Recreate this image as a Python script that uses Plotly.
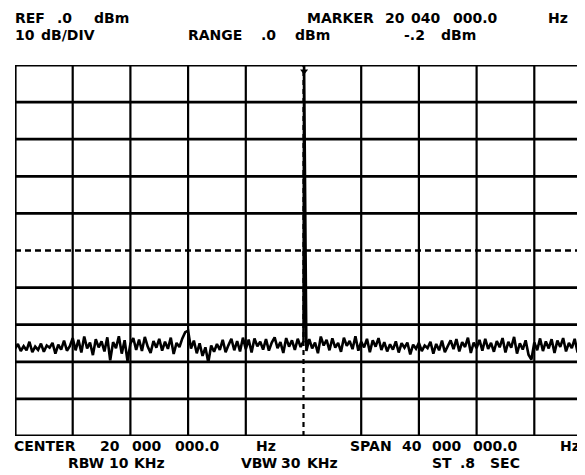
import numpy as np
import plotly.graph_objects as go

# ---------------- data ----------------
center_mhz = 20.0
span_mhz = 40.0
ref_dbm = 0.0
db_per_div = 10.0
n_div = 10

marker_freq_mhz = 20.04
marker_level_dbm = -0.2

# sweep bins (0 .. 40 MHz, 0.2 MHz spacing)
sweep_freq_mhz = np.round(np.arange(0, 40.0001, 0.2), 3).tolist()

noise_dbm = [
    -76.5, -75.2, -77.1, -75.8, -76.9, -74.6, -77.4, -75.9, -76.8, -75.1,
    -77.3, -75.6, -76.2, -74.9, -77.8, -75.4, -76.7, -74.3, -77.0, -75.8,
    -73.6, -76.9, -74.1, -77.5, -73.2, -76.4, -74.8, -78.2, -73.9, -76.1,
    -74.5, -77.2, -73.4, -79.6, -74.7, -76.3, -73.1, -77.8, -74.2, -79.8,
    -75.1, -73.6, -76.8, -74.0, -77.1, -73.3, -75.9, -77.6, -74.4, -76.2,
    -73.8, -77.0, -74.6, -76.5, -73.5, -77.9, -74.9, -76.0, -73.7, -72.0,
    -71.6, -76.4, -74.3, -77.7, -75.0, -78.4, -76.1, -80.2, -75.6, -77.3,
    -75.2, -76.8, -74.1, -77.4, -75.5, -73.8, -76.9, -74.4, -77.2, -73.5,
    -76.6, -74.0, -77.5, -73.7, -75.8, -74.6, -76.7, -73.9, -77.0, -74.8,
    -73.4, -76.3, -74.7, -77.6, -73.6, -75.9, -74.2, -76.8, -73.8, -76.0,
    -74.5, -77.1, -73.9, -76.4, -74.8, -77.7, -73.2, -75.6, -74.1, -76.9,
    -73.7, -76.2, -74.9, -77.3, -73.5, -75.7, -74.4, -76.6, -73.1, -77.0,
    -74.6, -76.1, -73.8, -77.4, -74.2, -75.9, -73.6, -76.8, -74.7, -77.2,
    -75.3, -76.7, -74.5, -77.5, -75.0, -76.2, -74.8, -78.0, -75.4, -76.5,
    -74.9, -77.1, -75.6, -76.3, -74.6, -77.8, -75.2, -76.9, -74.3, -77.4,
    -75.7, -74.2, -76.6, -73.9, -77.2, -74.7, -76.0, -73.5, -77.6, -74.8,
    -76.3, -74.1, -77.0, -73.8, -76.5, -74.9, -77.3, -74.4, -76.1, -73.6,
    -77.5, -74.6, -76.2, -73.3, -77.8, -75.0, -76.7, -74.2, -78.1, -79.4,
    -74.8, -76.9, -73.7, -77.1, -74.5, -76.4, -73.9, -77.6, -74.3, -76.0,
    -73.6, -77.2, -74.9, -76.3, -73.8, -77.5, -74.1, -76.8, -73.4, -76.6,
    -75.0,
]

header_left = ["REF .0 dBm", "10 dB/DIV"]
header_mid = "RANGE .0 dBm"
header_marker = ["MARKER 20 040 000.0 Hz", "-.2 dBm"]
footer_row1 = ["CENTER 20 000 000.0 Hz", "SPAN 40 000 000.0 Hz"]
footer_row2 = ["RBW 10 KHz", "VBW 30 KHz", "ST .8 SEC"]

# ---------------- build trace (insert marker signal) ----------------
trace_f, trace_v = [], []
for f, v in zip(sweep_freq_mhz, noise_dbm):
    trace_f.append(f)
    trace_v.append(v)
    if f < marker_freq_mhz <= f + 0.2:
        trace_f.append(marker_freq_mhz)
        trace_v.append(marker_level_dbm)

# ---------------- layout geometry (page pixels) ----------------
PAGE_W, PAGE_H = 585, 475
OFF = 8                      # default body margin of the html page
W, H = PAGE_W - OFF, PAGE_H - OFF
PL, PT, PB = 15, 65, 436     # plot box on the page
L, T, B = PL - OFF, PT - OFF, H - (PB - OFF)
px_per_div = 57.7
mhz_per_div = span_mhz / n_div
x_max = (PAGE_W - PL) / px_per_div * mhz_per_div
y_min = ref_dbm - n_div * db_per_div

fig = go.Figure()
fig.add_trace(go.Scatter(x=trace_f, y=trace_v, mode="lines",
                         line=dict(color="black", width=2.6),
                         hoverinfo="skip", showlegend=False))

shapes = []
for i in range(n_div + 1):
    yv = ref_dbm - i * db_per_div
    w = 3.2 if i in (0, n_div) else 2.7
    shapes.append(dict(type="line", xref="x", yref="y", x0=0, x1=span_mhz,
                       y0=yv, y1=yv,
                       line=dict(color="black", width=w,
                                 dash="6px,4px" if i == n_div // 2 else "solid")))
for i in range(n_div + 1):
    xv = i * mhz_per_div
    w = 3.2 if i == 0 else 2.2
    shapes.append(dict(type="line", xref="x", yref="y", x0=xv, x1=xv,
                       y0=y_min, y1=ref_dbm,
                       line=dict(color="black", width=w,
                                 dash="5px,4px" if i == n_div // 2 else "solid")))

# marker glyph at top
fig.add_trace(go.Scatter(x=[marker_freq_mhz], y=[marker_level_dbm - 1.5], mode="markers",
                         marker=dict(symbol="triangle-down", size=7, color="black"),
                         hoverinfo="skip", showlegend=False, cliponaxis=False))

FONT = dict(family="DejaVu Sans", size=14, color="black", weight="bold")
plot_w = PAGE_W - PL
plot_h = PB - PT


def px_to_paper(px, py):
    return (px - PL) / plot_w, (PB - py) / plot_h


annotations = []


def add_text(text, py, word_x):
    # place each word at its measured page position
    for wtxt, x_px in zip(text.split(" "), word_x):
        xp, yp = px_to_paper(x_px, py)
        annotations.append(dict(text=wtxt, x=xp, y=yp, xref="paper", yref="paper",
                                xanchor="left", yanchor="middle", showarrow=False,
                                borderpad=0, font=FONT))


r1, r2 = 18, 35
add_text(header_left[0], r1, [14, 56, 93])
add_text(header_left[1], r2, [14, 40])
add_text(header_mid, r2, [187, 260, 294])
add_text(header_marker[0], r1, [306, 384, 410, 452, 547])
add_text(header_marker[1], r2, [403, 440])

b1, b2 = 446, 463
add_text(footer_row1[0], b1, [13, 99, 131, 174, 255])
add_text(footer_row1[1], b1, [349, 401, 431, 472, 559])
add_text(footer_row2[0], b2, [67, 108, 133])
add_text(footer_row2[1], b2, [240, 280, 306])
add_text(footer_row2[2], b2, [431, 459, 489])

fig.update_layout(
    width=W, height=H,
    margin=dict(l=L, r=0, t=T, b=B, pad=0),
    paper_bgcolor="white", plot_bgcolor="white",
    xaxis=dict(range=[0, x_max], visible=False, showgrid=False, zeroline=False, fixedrange=True),
    yaxis=dict(range=[y_min, ref_dbm], visible=False, showgrid=False, zeroline=False, fixedrange=True),
    shapes=shapes,
    annotations=annotations,
    showlegend=False,
)

fig.write_html("out.html")
